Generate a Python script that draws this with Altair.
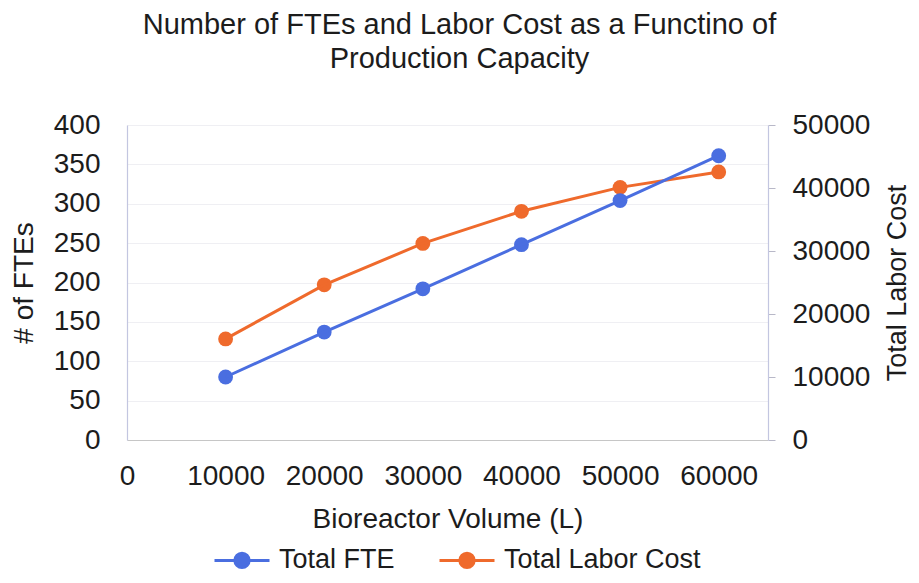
import altair as alt
import pandas as pd

volume = [10000, 20000, 30000, 40000, 50000, 60000]
total_fte = [80, 137, 192, 248, 304, 361]
total_labor_cost = [16050, 24630, 31200, 36300, 40100, 42550]
series_names = ["Total FTE", "Total Labor Cost"]
series_colors = ["#4a6ee0", "#ef6a2c"]
x_ticks = [0, 10000, 20000, 30000, 40000, 50000, 60000]
fte_ticks = [0, 50, 100, 150, 200, 250, 300, 350, 400]
cost_ticks = [0, 10000, 20000, 30000, 40000, 50000]

df = pd.DataFrame({"volume": volume, "fte": total_fte, "cost": total_labor_cost})

FONT = "Liberation Sans"
TXT = "#1c1c1c"
AXC = "#c3c6e0"

legend_path = "M-1,0H1M0.26,0A0.26,0.26,0,1,1,-0.26,0A0.26,0.26,0,1,1,0.26,0Z"

color = alt.Color(
    "series:N",
    scale=alt.Scale(domain=series_names, range=series_colors),
    legend=alt.Legend(
        title=None, orient="none", direction="horizontal",
        legendX=86, legendY=406, symbolType=legend_path, symbolSize=3025,
        symbolStrokeWidth=3, labelOffset=8, columnPadding=38, padding=0,
        labelFont=FONT, labelFontSize=27, labelColor=TXT, labelLimit=400,
    ),
)

x = alt.X("volume:Q", scale=alt.Scale(domain=[0, 65000], nice=False),
          axis=alt.Axis(values=x_ticks, title="Bioreactor Volume (L)", ticks=False,
                        labelPadding=22, titlePadding=15, grid=False,
                        domainColor="#c6c6c6", labelFlush=False, labelOverlap=False,
                        format="d"))

fte_axis = alt.Axis(values=fte_ticks, title="# of FTEs", orient="left", ticks=False,
                    labelPadding=27, grid=True, gridColor="#efeff3", labelOverlap=False,
                    domainColor=AXC, titleX=-103, titleBaseline="middle")
y_fte = alt.Y("fte:Q", scale=alt.Scale(domain=[0, 400], nice=False), axis=fte_axis)

cost_axis = alt.Axis(values=cost_ticks, title="Total Labor Cost", orient="right", ticks=True,
                     tickSize=7, tickColor="#b8b8c8", labelPadding=17, grid=False,
                     labelOverlap=False, domainColor=AXC, titleAngle=270, titleX=129,
                     titleFontSize=27, titleBaseline="middle", format="d")
y_cost = alt.Y("cost:Q", scale=alt.Scale(domain=[0, 50000], nice=False), axis=cost_axis)

base = alt.Chart(df).transform_calculate(series="'Total FTE'")
fte_pts = base.mark_point(filled=True, size=220, opacity=1).encode(x=x, y=y_fte, color=color)
fte_line = base.mark_line(strokeWidth=3).encode(x=x, y=y_fte, color=color)

base2 = alt.Chart(df).transform_calculate(series="'Total Labor Cost'")
cost_pts = base2.mark_point(filled=True, size=220, opacity=1).encode(x=x, y=y_cost, color=color)
cost_line = base2.mark_line(strokeWidth=3).encode(x=x, y=y_cost, color=color)

chart = alt.layer(
    alt.layer(cost_pts, cost_line),
    alt.layer(fte_pts, fte_line),
).resolve_scale(y="independent").properties(
    width=641, height=315,
    autosize=alt.AutoSizeParams(type="none"),
    padding={"left": 119, "top": 117, "right": 143, "bottom": 135},
    title=alt.TitleParams(
        ["Number of FTEs and Labor Cost as a Functino of", "Production Capacity"],
        anchor="middle", frame="group", dx=12, offset=37, fontSize=29,
        font=FONT, fontWeight="normal", color=TXT, lineHeight=34,
    ),
).configure_axis(
    labelFont=FONT, labelFontSize=28, labelColor=TXT,
    titleFont=FONT, titleFontSize=28, titleColor=TXT, titleFontWeight="normal",
    domainWidth=1.2,
).configure_view(stroke=None)

chart.save("out.html", embed_options={"renderer": "svg", "actions": False})
